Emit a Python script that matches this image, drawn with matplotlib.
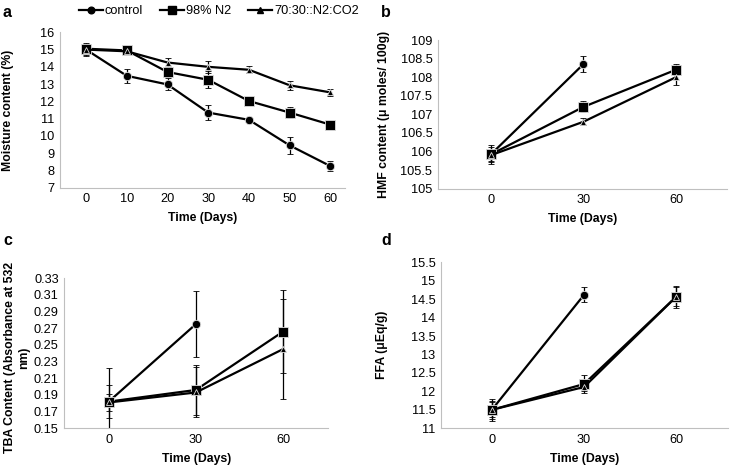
import matplotlib
matplotlib.use('Agg')
import matplotlib.pyplot as plt
from matplotlib.lines import Line2D

plt.rcParams['font.family'] = ['Liberation Sans', 'DejaVu Sans']

series = ['control', '98% N2', '70:30::N2:CO2']
markers = ['o', 's', '^']
msizes = [6, 7.5, 5]

# panel a: moisture
days_a = ['0', '10', '20', '30', '40', '50', '60']
moist = [
    [15.0, 13.48, 12.98, 11.35, 10.93, 9.45, 8.25],
    [15.05, 14.95, 13.7, 13.25, 12.02, 11.35, 10.65],
    [15.0, 14.9, 14.25, 14.0, 13.83, 12.93, 12.52],
]
moist_err = [
    [0.4, 0.4, 0.35, 0.45, 0.15, 0.5, 0.3],
    [0.3, 0.15, 0.3, 0.5, 0.15, 0.3, 0.15],
    [0.3, 0.15, 0.25, 0.35, 0.2, 0.25, 0.2],
]

days_b = ['0', '30', '60']

# panel b: HMF (control has no day 60 value)
hmf = [
    [105.92, 108.35],
    [105.92, 107.2, 108.2],
    [105.9, 106.8, 108.0],
]
hmf_err = [
    [0.25, 0.22],
    [0.2, 0.15, 0.15],
    [0.15, 0.1, 0.2],
]

# panel c: TBA
tba = [
    [0.182, 0.275],
    [0.182, 0.196, 0.266],
    [0.181, 0.193, 0.245],
]
tba_err = [
    [0.04, 0.04],
    [0.02, 0.03, 0.05],
    [0.01, 0.03, 0.06],
]

# panel d: FFA
ffa = [
    [11.5, 14.62],
    [11.5, 12.2, 14.57],
    [11.5, 12.12, 14.57],
]
ffa_err = [
    [0.3, 0.2],
    [0.25, 0.25, 0.3],
    [0.2, 0.1, 0.25],
]

fig = plt.figure(figsize=(7.39, 4.69), dpi=100)

axa = fig.add_axes([0.0812, 0.5998, 0.3857, 0.3313])
axb = fig.add_axes([0.5927, 0.5977, 0.3910, 0.3170])
axc = fig.add_axes([0.0870, 0.0868, 0.3573, 0.3198])
axd = fig.add_axes([0.5968, 0.0868, 0.3884, 0.3540])


def draw(ax, cats, vals, errs, xlim, ylim, yticks, ylabel, fmt):
    for i in range(3):
        xs = list(range(len(vals[i])))
        ax.errorbar(xs, vals[i], yerr=errs[i], color='black', lw=1.6,
                    marker=markers[i], ms=msizes[i], mfc='black',
                    mec='#dddddd', mew=0.6, ecolor='black', elinewidth=0.9,
                    capsize=2.2, capthick=0.9)
    ax.set_xticks(range(len(cats)))
    ax.set_xticklabels(cats)
    ax.set_xlim(*xlim)
    ax.set_ylim(*ylim)
    ax.set_yticks(yticks)
    ax.set_yticklabels([fmt(v) for v in yticks])
    ax.tick_params(length=0, labelsize=9.2, pad=4)
    for s in ['top', 'right']:
        ax.spines[s].set_visible(False)
    for s in ['left', 'bottom']:
        ax.spines[s].set_color('#bfbfbf')
        ax.spines[s].set_linewidth(0.8)
    ax.set_xlabel('Time (Days)', fontsize=8.8, fontweight='bold', labelpad=5)
    ax.set_ylabel(ylabel, fontsize=8.8, fontweight='bold')


def num(v):
    return ('%.2f' % v).rstrip('0').rstrip('.')


draw(axa, days_a, moist, moist_err, (-0.64, 6.36), (7, 16), range(7, 17),
     'Moisture content (%)', num)
draw(axb, days_b, hmf, hmf_err, (-0.57, 2.55), (105, 109),
     [105 + 0.5 * k for k in range(9)], 'HMF content (μ moles/ 100g)', num)
draw(axc, days_b, tba, tba_err, (-0.51, 2.52), (0.15, 0.33),
     [0.15 + 0.02 * k for k in range(10)],
     'TBA Content (Absorbance at 532\nnm)', lambda v: '%.2f' % v)
draw(axd, days_b, ffa, ffa_err, (-0.55, 2.56), (11, 15.5),
     [11 + 0.5 * k for k in range(10)], 'FFA (μEq/g)', num)

axa.yaxis.set_label_coords(-0.163, 0.5)
axb.yaxis.set_label_coords(-0.166, 0.5)
axc.yaxis.set_label_coords(-0.13, 0.47)
axd.yaxis.set_label_coords(-0.185, 0.5)

for lab, x, y in [('a', 0.004, 0.963), ('b', 0.516, 0.963),
                  ('c', 0.004, 0.478), ('d', 0.516, 0.478)]:
    fig.text(x, y, lab, fontsize=11.5, fontweight='bold')

handles = [Line2D([], [], color='black', lw=1.6, marker=markers[i],
                  ms=msizes[i] * 0.8, mfc='black', mec='black')
           for i in range(3)]
fig.legend(handles=handles, labels=series, loc='center', ncol=3,
           bbox_to_anchor=(0.296, 0.976), frameon=False, fontsize=9.2,
           handlelength=1.9, handletextpad=0.15, columnspacing=1.3,
           borderpad=0)

fig.savefig('out.png', dpi=100, facecolor='white')
